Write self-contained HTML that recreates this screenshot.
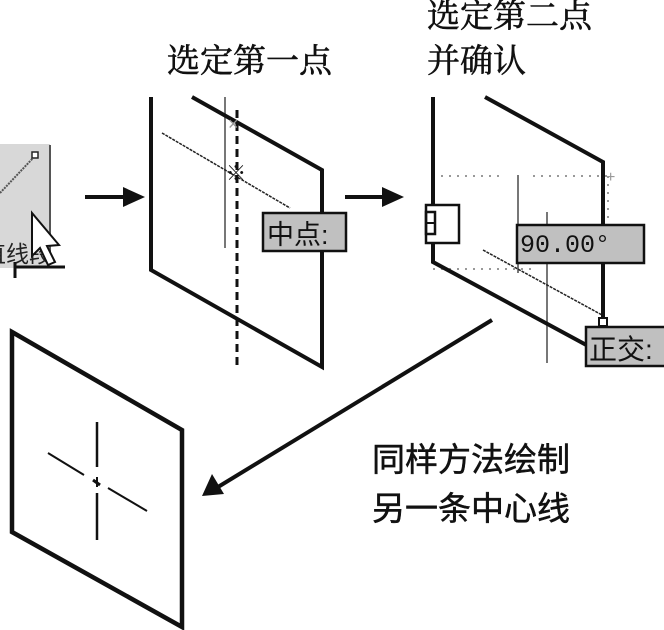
<!DOCTYPE html>
<html><head><meta charset="utf-8"><style>
html,body{margin:0;padding:0;background:#fff;}
svg{display:block;}
</style></head><body>
<svg width="664" height="630" viewBox="0 0 664 630" xmlns="http://www.w3.org/2000/svg">
<rect width="664" height="630" fill="#fff"/>

<!-- Titles -->
<g font-family="Liberation Serif, Noto Serif CJK SC, serif" font-size="33" fill="#111" stroke="#111" stroke-width="0.6">
<text x="167" y="72">选定第一点</text>
<text x="427" y="27">选定第二点</text>
<text x="427" y="72">并确认</text>
</g>
<g font-family="Liberation Sans, Noto Sans CJK SC, sans-serif" font-size="33" fill="#111" stroke="#111" stroke-width="0.5">
<text x="372" y="471">同样方法绘制</text>
<text x="372" y="520">另一条中心线</text>
</g>

<!-- Left icon -->
<rect x="0" y="144" width="50" height="124" fill="#d8d8d8"/>
<line x1="50" y1="145" x2="50" y2="262" stroke="#555" stroke-width="2"/>
<line x1="0" y1="193" x2="34" y2="157" stroke="#555" stroke-width="2" stroke-dasharray="2 1"/>
<rect x="32" y="152" width="6" height="6" fill="#fff" stroke="#222" stroke-width="1.5"/>
<text x="-17" y="262" font-family="Liberation Sans, Noto Sans CJK SC, sans-serif" font-size="23" fill="#222">直线段</text>
<polygon points="32,213 32,256 40,248 48,265 55,262 47,246 59,245" fill="#fff" stroke="#111" stroke-width="2"/>
<line x1="15" y1="267" x2="65" y2="267" stroke="#111" stroke-width="3"/>
<line x1="15" y1="262" x2="15" y2="278" stroke="#111" stroke-width="3"/>

<!-- Arrow 1 -->
<line x1="85" y1="197" x2="126" y2="197" stroke="#111" stroke-width="4"/>
<polygon points="123,187 145,197 123,207" fill="#111"/>

<!-- Panel 1 -->
<line x1="225" y1="97" x2="225" y2="248" stroke="#777" stroke-width="2"/>
<line x1="162" y1="133" x2="290" y2="208" stroke="#222" stroke-width="1.5" stroke-dasharray="3 1"/>
<line x1="237" y1="110" x2="237" y2="367" stroke="#111" stroke-width="3" stroke-dasharray="8 5"/>
<polyline points="151,97 151,270 322,367 322,170 192,97" fill="none" stroke="#111" stroke-width="4"/>
<text x="228" y="130" font-family="Liberation Sans, sans-serif" font-size="18" fill="#999">×</text>
<text x="226" y="180" font-family="Liberation Sans, Noto Sans CJK SC, sans-serif" font-size="20" fill="#111">※</text>
<rect x="263" y="213" width="83" height="38" fill="#c0c0c0" stroke="#111" stroke-width="2.5"/>
<text x="267" y="244" font-family="Liberation Sans, Noto Sans CJK SC, sans-serif" font-size="27" fill="#111">中点:</text>

<!-- Arrow 2 -->
<line x1="345" y1="197" x2="385" y2="197" stroke="#111" stroke-width="4"/>
<polygon points="382,187 404,197 382,207" fill="#111"/>

<!-- Panel 2 -->
<line x1="433" y1="176" x2="503" y2="176" stroke="#999" stroke-width="2" stroke-dasharray="2 6"/>
<line x1="533" y1="176" x2="612" y2="176" stroke="#999" stroke-width="2" stroke-dasharray="2 6"/>
<line x1="608" y1="176" x2="608" y2="222" stroke="#999" stroke-width="2" stroke-dasharray="2 6"/>
<line x1="433" y1="269" x2="535" y2="269" stroke="#999" stroke-width="2" stroke-dasharray="2 6"/>
<line x1="518" y1="175" x2="518" y2="273" stroke="#777" stroke-width="2"/>
<line x1="547" y1="212" x2="547" y2="363" stroke="#777" stroke-width="2"/>
<line x1="483" y1="250" x2="602" y2="315" stroke="#222" stroke-width="1.5" stroke-dasharray="3 1"/>
<polyline points="433,97 433,262 590,347" fill="none" stroke="#111" stroke-width="4"/>
<polyline points="485,97 603,162 603,318" fill="none" stroke="#111" stroke-width="4"/>
<text x="606" y="182" font-family="Liberation Sans, sans-serif" font-size="16" fill="#999">+</text>
<rect x="426" y="205" width="33" height="38" fill="#fff" stroke="#111" stroke-width="2.5"/>
<rect x="426" y="212" width="9" height="22" fill="none" stroke="#111" stroke-width="2.5"/>
<line x1="427" y1="223" x2="434" y2="223" stroke="#111" stroke-width="2"/>
<rect x="517" y="225" width="127" height="38" fill="#c0c0c0" stroke="#111" stroke-width="2.5"/>
<text x="520" y="252" font-family="Liberation Mono, monospace" font-size="25" fill="#111">90.00°</text>
<rect x="599" y="318" width="8" height="8" fill="#fff" stroke="#111" stroke-width="2"/>
<rect x="586" y="327" width="82" height="39" fill="#c0c0c0" stroke="#111" stroke-width="2.5"/>
<text x="589" y="359" font-family="Liberation Sans, Noto Sans CJK SC, sans-serif" font-size="28" fill="#111">正交:</text>

<!-- Big arrow -->
<line x1="492" y1="320" x2="218" y2="487" stroke="#111" stroke-width="4"/>
<polygon points="202,496 212,474 224,494" fill="#111"/>

<!-- Panel 3 -->
<polygon points="12,332 182,430 182,627 12,532" fill="none" stroke="#111" stroke-width="4.5"/>
<line x1="97" y1="422" x2="97" y2="467" stroke="#111" stroke-width="2.5"/>
<line x1="97" y1="493" x2="97" y2="540" stroke="#111" stroke-width="2.5"/>
<line x1="48" y1="453" x2="84" y2="475" stroke="#111" stroke-width="2"/>
<line x1="108" y1="488" x2="147" y2="511" stroke="#111" stroke-width="2"/>
<line x1="93" y1="480" x2="100" y2="485" stroke="#111" stroke-width="3"/>
<line x1="97" y1="477" x2="97" y2="487" stroke="#111" stroke-width="2"/>
</svg>
</body></html>
